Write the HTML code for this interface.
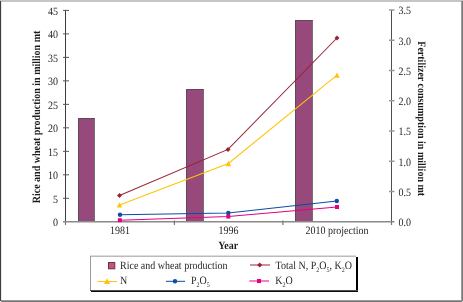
<!DOCTYPE html>
<html><head><meta charset="utf-8">
<style>
html,body{margin:0;padding:0;background:#fff;width:463px;height:302px;overflow:hidden;}
svg{display:block;font-family:"Liberation Serif",serif;text-rendering:geometricPrecision;}
</style></head><body>
<svg width="463" height="302" viewBox="0 0 463 302">
<defs><filter id="bl" x="-5%" y="-5%" width="110%" height="110%"><feGaussianBlur stdDeviation="0.3"/></filter></defs>
<g filter="url(#bl)">
<rect x="0" y="0" width="463" height="302" fill="#fff"/>
<!-- bars -->
<g fill="#96487a">
<rect x="78" y="118" width="17" height="104"/>
<rect x="186" y="89" width="18" height="133"/>
<rect x="295" y="20" width="18" height="202"/>
</g>
<g fill="none" stroke-width="1">
<path d="M78.5 222V118.5H94.5M186.5 222V89.5H203.5M295.5 222V20.5H312.5" stroke="#5e4a56"/>
<path d="M94.5 119V222M203.5 90V222M312.5 21V222" stroke="#7a6a72"/>
</g>

<!-- axes -->
<g fill="none">
<line x1="65.5" y1="10" x2="65.5" y2="222" stroke="#3c3c3c" stroke-width="1"/>
<line x1="391.5" y1="10.1" x2="391.5" y2="222" stroke="#505050" stroke-width="1"/>
<line x1="63" y1="221.8" x2="394.5" y2="221.8" stroke="#8a8a8a" stroke-width="1.5"/>
<path d="M63 10.40H69M63 33.89H69M63 57.38H69M63 80.87H69M63 104.36H69M63 127.84H69M63 151.33H69M63 174.82H69M63 198.31H69" stroke="#555" stroke-width="1"/>
<path d="M389 10.10H394.5M389 40.34H394.5M389 70.59H394.5M389 100.83H394.5M389 131.07H394.5M389 161.31H394.5M389 191.56H394.5" stroke="#999" stroke-width="1.5"/>
<path d="M65.5 221.8V225M174.4 220.5V225M282.9 220.5V225M391.5 221.8V225" stroke="#777" stroke-width="1.2"/>
</g>

<!-- tick labels -->
<text transform="translate(58,14.7) scale(1,1.12)" font-size="10" text-anchor="end" fill="#262626">45</text>
<text transform="translate(58,38.19) scale(1,1.12)" font-size="10" text-anchor="end" fill="#262626">40</text>
<text transform="translate(58,61.68) scale(1,1.12)" font-size="10" text-anchor="end" fill="#262626">35</text>
<text transform="translate(58,85.17) scale(1,1.12)" font-size="10" text-anchor="end" fill="#262626">30</text>
<text transform="translate(58,108.66) scale(1,1.12)" font-size="10" text-anchor="end" fill="#262626">25</text>
<text transform="translate(58,132.14) scale(1,1.12)" font-size="10" text-anchor="end" fill="#262626">20</text>
<text transform="translate(58,155.63) scale(1,1.12)" font-size="10" text-anchor="end" fill="#262626">15</text>
<text transform="translate(58,179.12) scale(1,1.12)" font-size="10" text-anchor="end" fill="#262626">10</text>
<text transform="translate(58,202.61) scale(1,1.12)" font-size="10" text-anchor="end" fill="#262626">5</text>
<text transform="translate(58,226.1) scale(1,1.12)" font-size="10" text-anchor="end" fill="#262626">0</text>
<text transform="translate(398.6,14.4) scale(1,1.12)" font-size="10" fill="#262626">3.5</text>
<text transform="translate(398.6,44.64) scale(1,1.12)" font-size="10" fill="#262626">3.0</text>
<text transform="translate(398.6,74.89) scale(1,1.12)" font-size="10" fill="#262626">2.5</text>
<text transform="translate(398.6,105.13) scale(1,1.12)" font-size="10" fill="#262626">2.0</text>
<text transform="translate(398.6,135.37) scale(1,1.12)" font-size="10" fill="#262626">1.5</text>
<text transform="translate(398.6,165.61) scale(1,1.12)" font-size="10" fill="#262626">1.0</text>
<text transform="translate(398.6,195.86) scale(1,1.12)" font-size="10" fill="#262626">0.5</text>
<text transform="translate(398.6,226.1) scale(1,1.12)" font-size="10" fill="#262626">0.0</text>
<text transform="translate(120,233.7) scale(1,1.12)" font-size="10" text-anchor="middle" fill="#262626">1981</text>
<text transform="translate(228.5,233.7) scale(1,1.12)" font-size="10" text-anchor="middle" fill="#262626">1996</text>
<text transform="translate(337,233.7) scale(1,1.12)" font-size="10" text-anchor="middle" fill="#262626">2010 projection</text>
<text transform="translate(228.2,249.3) scale(1,1.12)" font-size="10" font-weight="bold" text-anchor="middle" fill="#1e1e1e">Year</text>
<text transform="translate(40,117) rotate(-90) scale(1,1.12)" font-size="10" font-weight="bold" text-anchor="middle" fill="#1e1e1e">Rice and wheat production in million mt</text>
<text transform="translate(418,118.7) rotate(90) scale(1,1.12)" font-size="10" font-weight="bold" text-anchor="middle" fill="#1e1e1e">Fertilizer consumption in million mt</text>

<!-- lines -->
<g fill="none" stroke-width="1.05">
<polyline stroke="#9a2236" points="119.5,195.5 228,149.4 337,38"/>
<polyline stroke="#ffc30a" points="119.5,205 228.4,163.5 337,75.2"/>
<polyline stroke="#0c4da2" points="120,214.8 228.3,213 336.8,201"/>
<polyline stroke="#e6007e" points="119.8,220.2 228.3,216.6 337,207"/>
</g>
<g fill="#9a2236">
<path d="M119.5 193L122 195.5L119.5 198L117 195.5Z"/>
<path d="M228 146.9L230.5 149.4L228 151.9L225.5 149.4Z"/>
<path d="M337 35.5L339.5 38L337 40.5L334.5 38Z"/>
</g>
<g fill="#ffc30a">
<path d="M119.5 202.2L122.2 207.6L116.8 207.6Z"/>
<path d="M228.4 160.8L231.1 166.2L225.7 166.2Z"/>
<path d="M337 72.5L339.7 77.8L334.3 77.8Z"/>
</g>
<g fill="#0c4da2">
<circle cx="120" cy="214.8" r="2.2"/>
<circle cx="228.3" cy="213" r="2.2"/>
<circle cx="336.8" cy="201" r="2.2"/>
</g>
<g fill="#e6007e">
<rect x="117.8" y="218.2" width="4" height="4"/>
<rect x="226.3" y="214.6" width="4" height="4"/>
<rect x="335" y="205" width="4" height="4"/>
</g>

<!-- legend -->
<line x1="90" y1="256.2" x2="356" y2="256.2" stroke="#bbb" stroke-width="1.4"/>
<line x1="90.5" y1="256" x2="90.5" y2="291" stroke="#9a9a9a" stroke-width="1"/>
<rect x="356" y="257" width="2" height="35" fill="#000"/>
<rect x="90" y="290" width="268" height="1" fill="#505050"/>
<rect x="91" y="291" width="267" height="1" fill="#111"/>
<rect x="108.5" y="262.5" width="6.3" height="6.3" fill="#d04e7e" stroke="#5a3a4a" stroke-width="1"/>
<text transform="translate(120,268.6) scale(1,1.12)" font-size="10" fill="#262626">Rice and wheat production</text>
<text transform="translate(275.5,268.6) scale(1,1.12)" font-size="10" fill="#262626">Total N, P<tspan font-size="6" dy="2.8">2</tspan><tspan dy="-2.8">O</tspan><tspan font-size="6" dy="2.8">5</tspan><tspan dy="-2.8">, K</tspan><tspan font-size="6" dy="2.8">2</tspan><tspan dy="-2.8">O</tspan></text>
<text transform="translate(120,284.2) scale(1,1.12)" font-size="10" fill="#262626">N</text>
<text transform="translate(191,284.2) scale(1,1.12)" font-size="10" fill="#262626">P<tspan font-size="6" dy="2.8">2</tspan><tspan dy="-2.8">O</tspan><tspan font-size="6" dy="2.8">5</tspan></text>
<text transform="translate(275.3,284.2) scale(1,1.12)" font-size="10" fill="#262626">K<tspan font-size="6" dy="2.8">2</tspan><tspan dy="-2.8">O</tspan></text>
<g stroke-width="1">
<line x1="250" y1="265" x2="270" y2="265" stroke="#9a2236"/>
<line x1="97.5" y1="281.5" x2="117" y2="281.5" stroke="#ffc30a"/>
<line x1="166" y1="281.3" x2="185" y2="281.3" stroke="#0c4da2"/>
<line x1="249.3" y1="281" x2="269" y2="281" stroke="#e6007e"/>
</g>
<path d="M259.7 262.5L262.2 265L259.7 267.5L257.2 265Z" fill="#9a2236"/>
<path d="M107 278.2L110 284L104 284Z" fill="#ffc30a"/>
<circle cx="175" cy="281.3" r="2.2" fill="#0c4da2"/>
<rect x="257" y="279" width="4" height="4" fill="#e6007e"/>
</g>

<!-- frame -->
<rect x="0" y="0" width="463" height="2" fill="#c6c6c6"/>
<rect x="0" y="1" width="1" height="300" fill="#3e3e3e"/>
<rect x="1" y="2" width="1" height="298" fill="#e8e8e8"/>
<rect x="461" y="1" width="1" height="300" fill="#9c9c9c"/>
<rect x="462" y="1" width="1" height="300" fill="#7a7a7a"/>
<rect x="1" y="300" width="461" height="1" fill="#9a9a9a"/>
<rect x="1" y="301" width="461" height="1" fill="#767676"/>
<rect x="462" y="301" width="1" height="1" fill="#ddd"/>
</svg>
</body></html>
